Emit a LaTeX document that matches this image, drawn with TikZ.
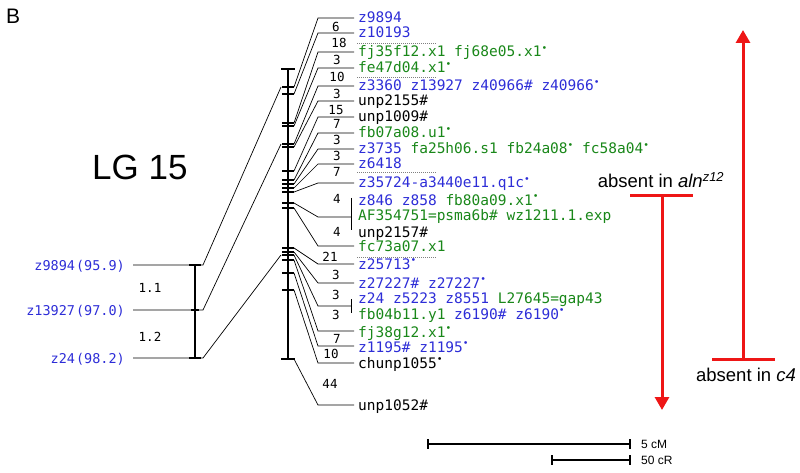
\documentclass[tikz,border=0pt]{standalone}
\usepackage{fontspec}
\setmainfont{Liberation Sans}
\newfontfamily\mapfont{DejaVu Sans Mono}
\usetikzlibrary{arrows.meta}
\definecolor{mkblue}{RGB}{45,45,215}
\definecolor{mkgreen}{RGB}{25,135,25}
\definecolor{absred}{RGB}{238,22,22}
\newcommand{\dg}{\raisebox{0.4em}{\fontsize{9.5}{9.5}\selectfont •}}
\newcommand{\bl}[1]{\textcolor{mkblue}{#1}}
\newcommand{\gr}[1]{\textcolor{mkgreen}{#1}}
\tikzset{
	locus/.style={anchor=base west, inner sep=0pt, font=\mapfont\fontsize{14.5}{14.5}\selectfont},
	leftlocus/.style={anchor=base east, inner sep=0pt, font=\mapfont\fontsize{13.5}{13.5}\selectfont, text=mkblue},
	dist/.style={inner sep=0pt, font=\mapfont\fontsize{12.5}{12.5}\selectfont},
	link/.style={line width=0.7pt},
	chrom/.style={line width=2.6pt},
	tickmark/.style={line width=1.2pt},
	guide/.style={gray, line width=0.8pt, dash pattern=on 1pt off 1pt},
	absent/.style={draw=absred, line width=3pt},
	absentlab/.style={anchor=base, inner sep=0pt, font=\fontsize{18.5}{18.5}\selectfont},
	scalelab/.style={anchor=west, inner sep=0pt, font=\fontsize{12}{12}\selectfont}
}
\begin{document}
\begin{tikzpicture}[x=1pt,y=-1pt]
	\useasboundingbox (0,0) rectangle (800,473);
	\node[anchor=base west, inner sep=0pt, font=\fontsize{21}{21}\selectfont] (panel) at (6,24) {B};
	\node[anchor=base west, inner sep=0pt, font=\fontsize{35}{35}\selectfont] (lg) at (92,180) {LG 15};
	% left map
	\draw [chrom] (195,265) -- (195,358);
	\draw [tickmark] (189,265) -- (201,265);
	\draw [tickmark] (191,310) -- (199,310);
	\draw [tickmark] (189,358) -- (201,358);
	\node[leftlocus] (lz9894) at (125,270) {z9894\hspace{1pt}(95.9)};
	\node[leftlocus] (lz13927) at (125,315) {z13927\hspace{1pt}(97.0)};
	\node[leftlocus] (lz24) at (125,363) {z24\hspace{1pt}(98.2)};
	\node[dist] (d11) at (150,288) {1.1};
	\node[dist] (d12) at (150,337) {1.2};
	\coordinate (s1) at (133,265);
	\coordinate (s2) at (133,310);
	\coordinate (s3) at (133,358);
	\coordinate (l1) at (203,265);
	\coordinate (l2) at (203,310);
	\coordinate (l3) at (203,358);
	\coordinate (r1) at (281,87);
	\coordinate (r2) at (281,144);
	\coordinate (r3) at (281,255);
	\draw [link] (s1) -- (l1) -- (r1);
	\draw [link] (s2) -- (l2) -- (r2);
	\draw [link] (s3) -- (l3) -- (r3);
	% right map
	\draw [chrom] (288,69) -- (288,359);
	\draw [tickmark] (281,69) -- (295,69);
	\draw [tickmark] (281,359) -- (295,359);
	\foreach \i/\ty/\ly/\xe in {1/87/18/354, 2/94/33/354, 3/123/52/354, 4/126/68/354,
		5/144/86/354, 6/147/101/354, 7/171/117/354, 8/180/133/354, 9/184/149/354,
		10/188/164/354, 11/192/183/354, 12/203/217/351, 13/208/246/354, 14/248/264/354,
		15/252/283/354, 16/255/306/351, 17/260/331/354, 18/273/346/354, 19/290/363/354,
		20/359/405/354}{
		\coordinate (t\i) at (294,\ty);
		\coordinate (m\i) at (318,\ly);
		\coordinate (n\i) at (\xe,\ly);
		\draw [tickmark] (282,\ty) -- (t\i);
		\draw [link] (t\i) -- (m\i) -- (n\i);
	}
	\draw [link] (351,198) -- (351,230);
	\draw [link] (351,299) -- (351,313);
	% intervals
	\node[dist] at (336,27) {6};
	\node[dist] at (339,43) {18};
	\node[dist] at (337,60) {3};
	\node[dist] at (337,77) {10};
	\node[dist] at (337,94) {3};
	\node[dist] at (336,110) {15};
	\node[dist] at (337,124) {7};
	\node[dist] at (337,140) {3};
	\node[dist] at (337,156) {3};
	\node[dist] at (337,172) {7};
	\node[dist] at (337,199) {4};
	\node[dist] at (337,232) {4};
	\node[dist] at (330,257) {21};
	\node[dist] at (336,275) {3};
	\node[dist] at (336,295) {3};
	\node[dist] at (336,315) {3};
	\node[dist] at (337,339) {7};
	\node[dist] at (331,354) {10};
	\node[dist] at (330,384) {44};
	% dotted separators
	\draw [guide] (357,43) -- (436,43);
	\draw [guide] (357,77) -- (436,77);
	\draw [guide] (357,172) -- (436,172);
	\draw [guide] (357,257) -- (436,257);
	% marker names
	\node[locus] (z9894) at (358,23) {\bl{z9894}};
	\node[locus] (z10193) at (358,38) {\bl{z10193}};
	\node[locus] (fj35f12) at (358,57) {\gr{fj35f12.x1 fj68e05.x1\dg}};
	\node[locus] (fe47d04) at (358,73) {\gr{fe47d04.x1\dg}};
	\node[locus] (z3360) at (358,91) {\bl{z3360 z13927 z40966\# z40966\dg}};
	\node[locus] (unp2155) at (358,106) {unp2155\#};
	\node[locus] (unp1009) at (358,122) {unp1009\#};
	\node[locus] (fb07a08) at (358,138) {\gr{fb07a08.u1\dg}};
	\node[locus] (z3735) at (358,154) {\bl{z3735} \gr{fa25h06.s1 fb24a08\dg{} fc58a04\dg}};
	\node[locus] (z6418) at (358,169) {\bl{z6418}};
	\node[locus] (z35724) at (358,188) {\bl{z35724-a3440e11.q1c\dg}};
	\node[locus] (z846) at (358,205) {\bl{z846 z858} \gr{fb80a09.x1\dg}};
	\node[locus] (af354751) at (358,221) {\gr{AF354751=psma6b\# wz1211.1.exp}};
	\node[locus] (unp2157) at (358,237) {unp2157\#};
	\node[locus] (fc73a07) at (358,251) {\gr{fc73a07.x1}};
	\node[locus] (z25713) at (358,269) {\bl{z25713\dg}};
	\node[locus] (z27227) at (358,288) {\bl{z27227\# z27227\dg}};
	\node[locus] (z24) at (358,303) {\bl{z24 z5223 z8551} \gr{L27645=gap43}};
	\node[locus] (fb04b11) at (358,319) {\gr{fb04b11.y1} \bl{z6190\# z6190\dg}};
	\node[locus] (fj38g12) at (358,337) {\gr{fj38g12.x1\dg}};
	\node[locus] (z1195) at (358,352) {\bl{z1195\# z1195\dg}};
	\node[locus] (chunp1055) at (358,368) {chunp1055\dg};
	\node[locus] (unp1052) at (358,410) {unp1052\#};
	% deletions
	\coordinate (c4base) at (743,359);
	\coordinate (c4top) at (743,30);
	\draw [absent] (712,359) -- (775,359);
	\draw [absent, -{Triangle[length=13pt,width=14pt]}] (c4base) -- (c4top);
	\node[absentlab] (c4lab) at (746,381) {absent in \textit{c4}};
	\coordinate (alnbase) at (662,196);
	\coordinate (alntop) at (662,410);
	\draw [absent] (630,196) -- (693,196);
	\draw [absent, -{Triangle[length=13pt,width=14pt]}] (alnbase) -- (alntop);
	\node[absentlab] (alnlab) at (661,188) {absent in \textit{aln}\textsuperscript{\textit{z12}}};
	% scale
	\coordinate (cma) at (428,444);
	\coordinate (cmb) at (630,444);
	\coordinate (cra) at (552,460);
	\coordinate (crb) at (630,460);
	\draw [line width=2pt] (cma) -- (cmb);
	\draw [line width=2pt] (cra) -- (crb);
	\draw [tickmark] (428,439) -- (428,449);
	\draw [tickmark] (630,439) -- (630,449);
	\draw [tickmark] (552,455) -- (552,465);
	\draw [tickmark] (630,455) -- (630,465);
	\node[scalelab] (cmlab) at (641,444) {5 cM};
	\node[scalelab] (crlab) at (641,460) {50 cR};
\end{tikzpicture}
\end{document}
